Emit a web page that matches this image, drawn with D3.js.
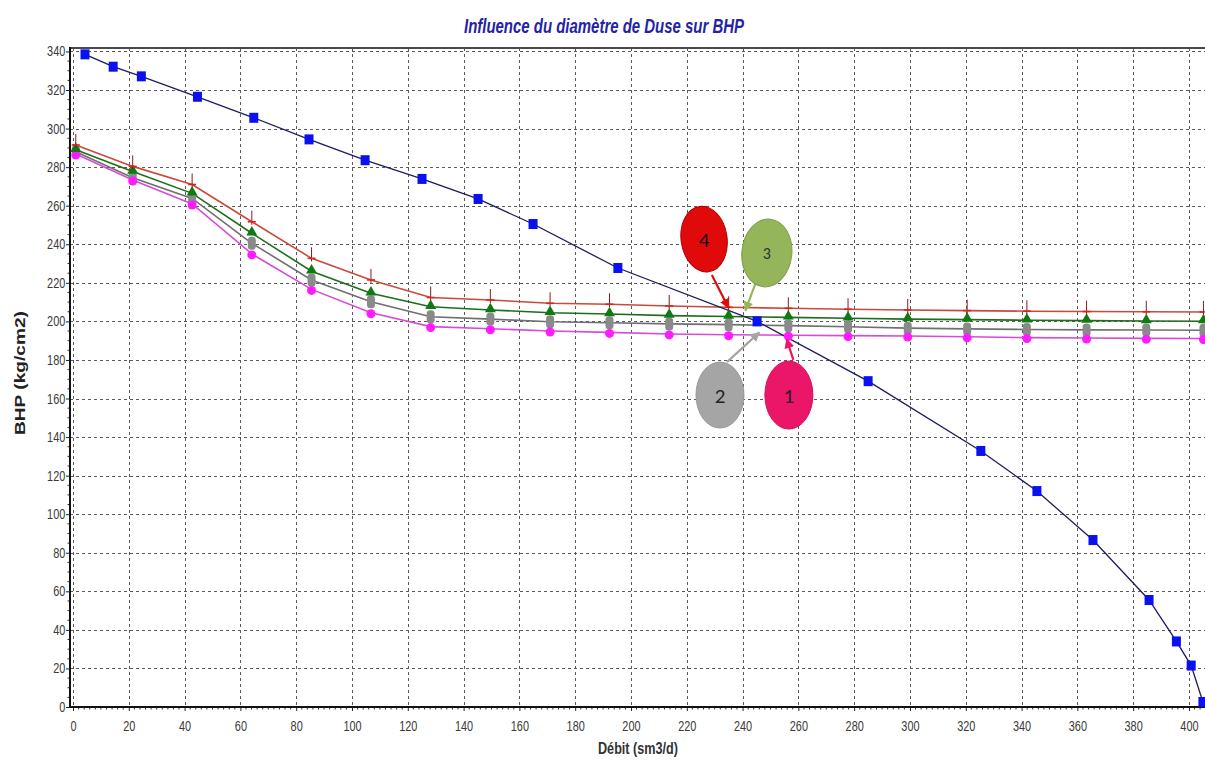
<!DOCTYPE html>
<html>
<head>
<meta charset="utf-8">
<script src="https://cdn.jsdelivr.net/npm/d3@7"></script>
<style>
  html, body { margin: 0; padding: 0; background: #ffffff; }
  svg { display: block; }
  .sans { font-family: 'Liberation Sans', Arial, sans-serif; }
</style>
</head>
<body>
<svg id="chart" width="1205" height="760"></svg>
<script>
// ---- Data -------------------------------------------------------------
const titleText = "Influence du diamètre de Duse sur BHP";
const xLabelText = "Débit (sm3/d)";
const yLabelText = "BHP (kg/cm2)";

const xTickValues = d3.range(0, 401, 20);
const yTickValues = d3.range(0, 341, 20);

// Inflow curve (IPR)
const iprRate = [4.3, 14.4, 24.5, 44.6, 64.8, 84.6, 104.7, 125.1, 145.2, 164.9,
                 195.3, 245.2, 285.0, 325.4, 345.5, 365.6, 385.7, 395.5, 400.8, 405.0];
const iprBhp  = [338.5, 332.1, 327.1, 316.5, 305.6, 294.4, 283.6, 273.9, 263.5, 250.5,
                 227.7, 200.0, 169.0, 132.8, 112.0, 86.6, 55.5, 34.0, 21.5, 2.6];

// Outflow curves for the four choke sizes (shared rates)
const vlpRate = [1, 21.4, 42.7, 64.1, 85.5, 106.8, 128.2, 149.6, 171.0, 192.3,
                 213.7, 235.0, 256.4, 277.8, 299.2, 320.5, 341.9, 363.3, 384.7, 405.2];
const bhpDuse1 = [286.8, 273.3, 260.9, 235.0, 216.6, 204.5, 197.3, 196.2, 195.0, 194.3,
                  193.5, 193.1, 192.8, 192.6, 192.4, 192.0, 191.6, 191.4, 191.2, 191.1];
const bhpDuse2 = [288.0, 274.5, 263.8, 240.5, 221.5, 210.2, 202.4, 201.2, 199.8, 199.3,
                  198.7, 198.3, 197.8, 197.2, 196.5, 196.1, 195.8, 195.6, 195.5, 195.4];
const bhpDuse3 = [289.0, 277.7, 266.4, 245.7, 226.0, 214.6, 207.6, 205.9, 204.5, 203.8,
                  203.0, 202.5, 202.1, 201.6, 201.2, 200.9, 200.6, 200.4, 200.2, 200.1];
const bhpDuse4 = [291.5, 280.4, 271.0, 251.7, 232.7, 221.5, 212.4, 211.1, 209.4, 208.9,
                  208.0, 207.3, 206.8, 206.3, 205.9, 205.6, 205.3, 205.1, 205.0, 204.9];

const calloutLabels = ["1", "2", "3", "4"];

// ---- Layout -----------------------------------------------------------
const plot = { left: 70, right: 1205, top: 48, bottom: 707 };

const svg = d3.select("#chart");

const x = d3.scaleLinear().domain([-1.075, 405.75]).range([plot.left, plot.right]);
const y = d3.scaleLinear().domain([0, 341.8]).range([plot.bottom, plot.top]);

// ---- Grid -------------------------------------------------------------
const grid = svg.append("g").attr("stroke", "#5a5a5a").attr("stroke-width", 1)
  .attr("stroke-dasharray", "3,3").attr("fill", "none");

grid.selectAll("line.h").data(yTickValues.filter(v => v > 0)).join("line")
  .attr("x1", plot.left).attr("x2", plot.right)
  .attr("y1", d => Math.round(y(d)) + 0.5).attr("y2", d => Math.round(y(d)) + 0.5);

grid.selectAll("line.v").data(xTickValues).join("line")
  .attr("y1", plot.top).attr("y2", plot.bottom)
  .attr("x1", d => Math.round(x(d)) + 0.5).attr("x2", d => Math.round(x(d)) + 0.5);

// ---- Axes -------------------------------------------------------------
const xAxis = svg.append("g").attr("transform", `translate(0,${plot.bottom})`)
  .call(d3.axisBottom(x).tickValues(xTickValues).tickSize(4).tickPadding(10).tickFormat(d3.format("d")));
const yAxis = svg.append("g").attr("transform", `translate(${plot.left},0)`)
  .call(d3.axisLeft(y).tickValues(yTickValues).tickSize(4).tickPadding(2).tickFormat(d3.format("d")));

[xAxis, yAxis].forEach(a => {
  a.select(".domain").remove();
  a.selectAll(".tick line").attr("stroke", "#222");
  a.selectAll(".tick text").attr("class", "sans").attr("font-size", 14)
    .attr("fill", "#3a3a3a").attr("transform", "scale(0.78,1)");
});

// minor ticks
const minor = svg.append("g").attr("stroke", "#333").attr("stroke-width", 1);
minor.selectAll("line.mx").data(d3.range(0, 406, 2).filter(v => v % 20 !== 0)).join("line")
  .attr("x1", d => x(d)).attr("x2", d => x(d))
  .attr("y1", plot.bottom).attr("y2", plot.bottom + 2.5);
minor.selectAll("line.my").data(d3.range(0, 341, 5).filter(v => v % 20 !== 0)).join("line")
  .attr("x1", plot.left - 2.5).attr("x2", plot.left)
  .attr("y1", d => y(d)).attr("y2", d => y(d));

// frame
svg.append("line").attr("x1", plot.left).attr("x2", plot.right)
  .attr("y1", plot.top).attr("y2", plot.top).attr("stroke", "#4a4a4a").attr("stroke-width", 2);
svg.append("line").attr("x1", plot.left).attr("x2", plot.left)
  .attr("y1", plot.top - 1).attr("y2", plot.bottom + 1).attr("stroke", "#111").attr("stroke-width", 2);
svg.append("line").attr("x1", plot.left - 1).attr("x2", plot.right)
  .attr("y1", plot.bottom).attr("y2", plot.bottom).attr("stroke", "#111").attr("stroke-width", 2);

// ---- Curves -----------------------------------------------------------
const line = d3.line().x(d => x(d[0])).y(d => y(d[1]));
const zipPts = (xs, ys) => xs.map((v, i) => [v, ys[i]]);

const curves = [
  { values: bhpDuse1, color: "#d84ad8" },
  { values: bhpDuse2, color: "#6f6f6f" },
  { values: bhpDuse3, color: "#1d6e1d" },
  { values: bhpDuse4, color: "#c94a3c" }
];

const plotArea = svg.append("g");
curves.forEach(c => {
  plotArea.append("path").datum(zipPts(vlpRate, c.values))
    .attr("d", line).attr("fill", "none").attr("stroke", c.color).attr("stroke-width", 1.6);
});

plotArea.append("path").datum(zipPts(iprRate, iprBhp))
  .attr("d", line).attr("fill", "none").attr("stroke", "#1c1c5c").attr("stroke-width", 1.3);

// markers: choke 2 (grey capsules)
plotArea.selectAll("rect.d2").data(zipPts(vlpRate, bhpDuse2)).join("rect")
  .attr("x", d => x(d[0]) - 4).attr("y", d => y(d[1]) - 6.5)
  .attr("width", 8).attr("height", 13).attr("rx", 3.5)
  .attr("fill", "#8a8a8a");

// choke 1 (magenta circles)
plotArea.selectAll("circle.d1").data(zipPts(vlpRate, bhpDuse1)).join("circle")
  .attr("cx", d => x(d[0])).attr("cy", d => y(d[1]) + 1).attr("r", 4.5)
  .attr("fill", "#ff1aff");

// choke 3 (green triangles)
const tri = d3.symbol().type(d3.symbolTriangle).size(52);
plotArea.selectAll("path.d3").data(zipPts(vlpRate, bhpDuse3)).join("path")
  .attr("d", tri).attr("transform", d => `translate(${x(d[0])},${y(d[1]) - 1})`)
  .attr("fill", "#0f7a0f");

// choke 4 (red crosses with tall stems)
const cross = plotArea.selectAll("g.d4").data(zipPts(vlpRate, bhpDuse4)).join("g")
  .attr("transform", d => `translate(${x(d[0])},${y(d[1])})`);
cross.append("line").attr("x1", 0).attr("x2", 0).attr("y1", -11).attr("y2", 3)
  .attr("stroke", "#8a1a1a").attr("stroke-width", 1);
cross.append("line").attr("x1", -4).attr("x2", 4).attr("y1", 0).attr("y2", 0)
  .attr("stroke", "#e02020").attr("stroke-width", 1.6);

// IPR squares
plotArea.selectAll("rect.ipr").data(zipPts(iprRate, iprBhp)).join("rect")
  .attr("x", d => x(d[0]) - 4.5).attr("y", d => y(d[1]) - 5)
  .attr("width", 9).attr("height", 10)
  .attr("fill", "#0a10f0");

// ---- Callouts ---------------------------------------------------------
// centre, arrow start and arrow tip in data units (rate, BHP)
const calloutPlacement = {
  "4": { c: [226.2, 242.7], from: [229.0, 224.0], to: [235.0, 207.0], rx: 23, ry: 33, rot: -8, fill: "#e00a0a", stroke: "#b00000", text: "#111" },
  "3": { c: [248.7, 235.5], from: [244.6, 219.6], to: [241.0, 205.6], rx: 25, ry: 34, rot: 6,  fill: "#95b55a", stroke: "#7f9e48", text: "#333" },
  "2": { c: [231.9, 161.8], from: [234.4, 178.9], to: [246.0, 194.3], rx: 24, ry: 33, rot: 0,  fill: "#a5a5a5", stroke: "#999",    text: "#222" },
  "1": { c: [256.6, 161.8], from: [258.2, 180.0], to: [255.8, 190.8], rx: 24, ry: 34, rot: 0,  fill: "#ec1669", stroke: "#d0105a", text: "#222" }
};

const defs = svg.append("defs");
calloutLabels.forEach(lbl => {
  const p = calloutPlacement[lbl];
  defs.append("marker").attr("id", "arrow" + lbl)
    .attr("viewBox", "0 0 10 10").attr("refX", 9).attr("refY", 5)
    .attr("markerWidth", 4.5).attr("markerHeight", 4.5).attr("orient", "auto")
    .append("path").attr("d", "M0,0 L10,5 L0,10 z").attr("fill", p.fill);
});

const callouts = svg.append("g");
calloutLabels.forEach(lbl => {
  const p = calloutPlacement[lbl];
  callouts.append("line")
    .attr("x1", x(p.from[0])).attr("y1", y(p.from[1]))
    .attr("x2", x(p.to[0])).attr("y2", y(p.to[1]))
    .attr("stroke", p.fill).attr("stroke-width", 2.2)
    .attr("marker-end", `url(#arrow${lbl})`);
  const cx = x(p.c[0]), cy = y(p.c[1]);
  callouts.append("ellipse")
    .attr("cx", cx).attr("cy", cy).attr("rx", p.rx).attr("ry", p.ry)
    .attr("transform", `rotate(${p.rot},${cx},${cy})`)
    .attr("fill", p.fill).attr("stroke", p.stroke).attr("stroke-width", 1);
  callouts.append("text")
    .attr("x", cx).attr("y", cy).attr("dy", "0.36em")
    .attr("text-anchor", "middle")
    .attr("font-family", "Carlito, 'Open Sans', 'Liberation Sans', sans-serif")
    .attr("font-size", lbl === "3" ? 16 : 21)
    .attr("fill", p.text)
    .text(lbl);
});

// ---- Titles -----------------------------------------------------------
svg.append("text").attr("class", "sans")
  .attr("x", 604).attr("y", 33).attr("text-anchor", "middle")
  .attr("font-size", 20).attr("font-weight", "bold").attr("font-style", "italic")
  .attr("textLength", 280).attr("lengthAdjust", "spacingAndGlyphs")
  .attr("fill", "#2323a6").text(titleText);

svg.append("text").attr("class", "sans")
  .attr("x", 638).attr("y", 754).attr("text-anchor", "middle")
  .attr("font-size", 17).attr("font-weight", "bold")
  .attr("textLength", 80).attr("lengthAdjust", "spacingAndGlyphs")
  .attr("fill", "#333").text(xLabelText);

svg.append("text").attr("class", "sans")
  .attr("transform", `translate(25,${373}) rotate(-90)`)
  .attr("text-anchor", "middle")
  .attr("font-size", 15).attr("font-weight", "bold")
  .attr("textLength", 124).attr("lengthAdjust", "spacingAndGlyphs")
  .attr("fill", "#222").text(yLabelText);
</script>
</body>
</html>
